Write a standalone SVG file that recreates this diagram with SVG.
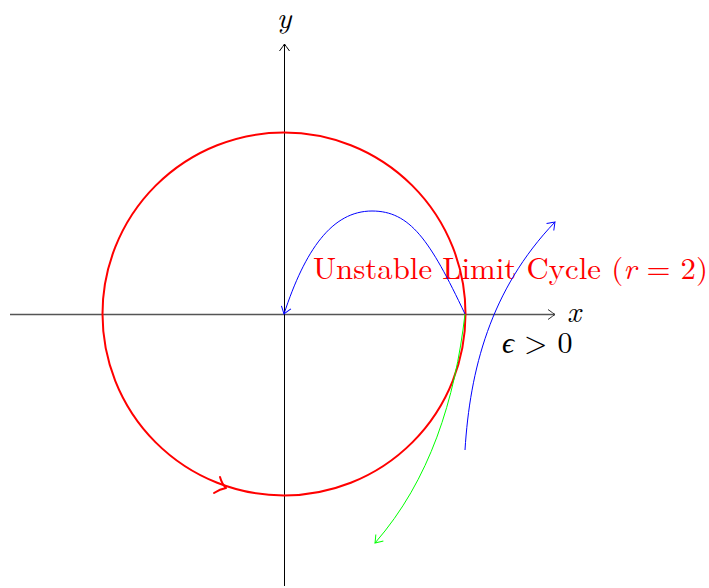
<svg xmlns="http://www.w3.org/2000/svg" width="709" height="588" viewBox="0 0 709 588">
<style>
.t{font-family:"Latin Modern Roman","Liberation Serif","DejaVu Serif",serif;font-size:30px}
.i{font-style:italic}
</style>
<defs>
<marker id="ak" markerWidth="12" markerHeight="12" refX="0" refY="0" viewBox="-10 -6 12 12" orient="auto" markerUnits="userSpaceOnUse"><path d="M-7,-5 Q-1.5,-1 0,0 Q-1.5,1 -7,5" fill="none" stroke="#000" stroke-width="1"/></marker>
<marker id="ag" markerWidth="12" markerHeight="12" refX="0" refY="0" viewBox="-10 -6 12 12" orient="auto" markerUnits="userSpaceOnUse"><path d="M-7,-5 Q-1.5,-1 0,0 Q-1.5,1 -7,5" fill="none" stroke="#333" stroke-width="1"/></marker>
<marker id="ab" markerWidth="12" markerHeight="12" refX="0" refY="0" viewBox="-10 -6 12 12" orient="auto" markerUnits="userSpaceOnUse"><path d="M-7,-5 Q-1.5,-1 0,0 Q-1.5,1 -7,5" fill="none" stroke="#00f" stroke-width="1"/></marker>
<marker id="agr" markerWidth="12" markerHeight="12" refX="0" refY="0" viewBox="-10 -6 12 12" orient="auto" markerUnits="userSpaceOnUse"><path d="M-7,-5 Q-1.5,-1 0,0 Q-1.5,1 -7,5" fill="none" stroke="#0f0" stroke-width="1"/></marker>
</defs>
<g id="axes">
<line x1="10" y1="314.5" x2="555" y2="314.5" stroke="#555" stroke-width="1.3" marker-end="url(#ag)"/>
<line x1="284.5" y1="586" x2="284.5" y2="44" stroke="#000" stroke-width="1" marker-end="url(#ak)"/>
<text class="t i" x="574" y="322" text-anchor="middle">x</text>
<text class="t i" x="284" y="28" text-anchor="middle">y</text>
</g>
<g id="limit-cycle">
<circle cx="284" cy="314" r="181.5" fill="none" stroke="#f00" stroke-width="2"/>
<path d="M220,477 Q222,484 226,488 Q220,489 214,493" fill="none" stroke="#f00" stroke-width="2" stroke-linecap="round" stroke-linejoin="round"/>
<text class="t" x="313" y="279" fill="#f00" textLength="395" lengthAdjust="spacingAndGlyphs">Unstable Limit Cycle (<tspan class="i">r</tspan> = 2)</text>
</g>
<g id="connectors">
<path d="M465,314 C430,240 410,211 372,211 C332,211 305,250 284,314" fill="none" stroke="#00f" stroke-width="1" marker-end="url(#ab)"/>
<path d="M465,450 C470,370 490,290 555,222" fill="none" stroke="#00f" stroke-width="1" marker-end="url(#ab)"/>
<path d="M465,314 C455,400 430,480 375,543" fill="none" stroke="#0f0" stroke-width="1" marker-end="url(#agr)"/>
</g>
<g id="label-eps">
<text class="t" x="502" y="353"><tspan class="i">ϵ</tspan> &gt; 0</text>
</g>
</svg>
